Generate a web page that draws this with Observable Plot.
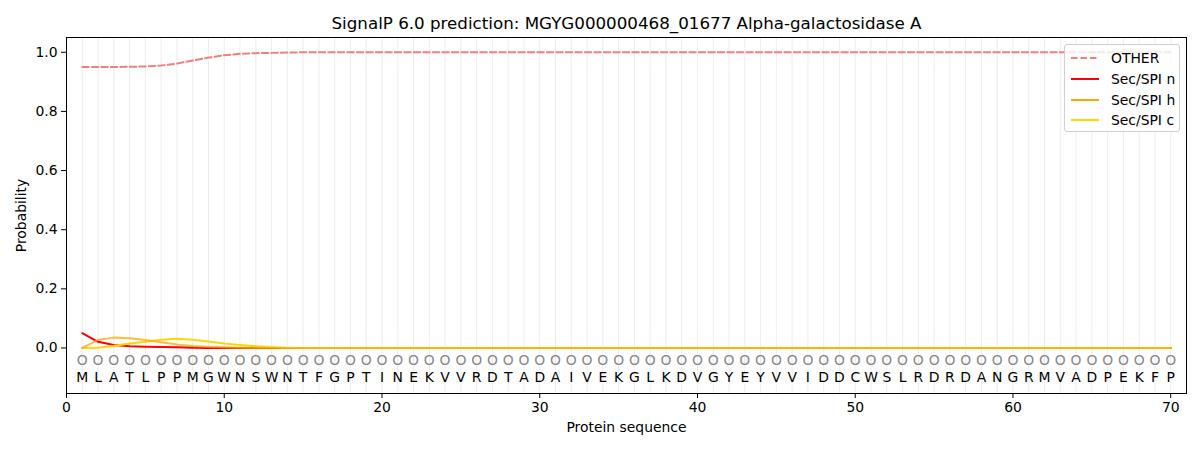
<!DOCTYPE html>
<html>
<head>
<meta charset="utf-8">
<script src="https://cdn.jsdelivr.net/npm/d3@7"></script>
<script src="https://cdn.jsdelivr.net/npm/@observablehq/plot@0.6"></script>
<style>
  body { margin: 0; background: #fff; font-family: "DejaVu Sans", sans-serif; }
  #wrap { position: relative; width: 1200px; height: 450px; }
  #legend { position: absolute; left: 1064px; top: 44px; width: 114px; height: 86px;
    border: 1px solid #d0d0d0; border-radius: 3px; background: rgba(255,255,255,0.8);
    font-family: "DejaVu Sans", sans-serif; font-size: 13.9px; color: #000; }
  #legend .row { position: absolute; left: 6px; height: 20px; display: flex; align-items: center; white-space: nowrap; }
  #legend svg { margin-right: 12px; }
</style>
</head>
<body>
<div id="wrap"></div>
<script>
const title = "SignalP 6.0 prediction: MGYG000000468_01677 Alpha-galactosidase A";
const sequence = "MLATLPPMGWNSWNTFGPTINEKVVRDTADAIVEKGLKDVGYEYVVIDDCWSLRDRDANGRMVADPEKFP".split("");
const xTicks = [0, 10, 20, 30, 40, 50, 60, 70];
const yTicks = [0.0, 0.2, 0.4, 0.6, 0.8, 1.0];

const otherProb = [0.950, 0.950, 0.950, 0.951, 0.952, 0.955, 0.962, 0.972, 0.982, 0.990, 0.995, 0.997, 0.998, 0.999];
const secN = [0.050, 0.021, 0.010, 0.006, 0.004, 0.003, 0.002, 0.001];
const secH = [0.000, 0.027, 0.035, 0.033, 0.027, 0.019, 0.012, 0.007, 0.004, 0.002, 0.001];
const secC = [0.000, 0.001, 0.007, 0.015, 0.021, 0.028, 0.031, 0.028, 0.022, 0.015, 0.010, 0.006, 0.003, 0.001];

const seriesNames = ["OTHER", "Sec/SPI n", "Sec/SPI h", "Sec/SPI c"];
const seriesColors = ["#f08080", "#ff0000", "#ffa500", "#ffd700"];

function fill(arr, tail) {
  return sequence.map((_, i) => i < arr.length ? arr[i] : tail);
}
const seriesValues = [fill(otherProb, 1.0), fill(secN, 0), fill(secH, 0), fill(secC, 0)];
const rows = [];
seriesNames.forEach((name, s) => {
  seriesValues[s].forEach((v, i) => rows.push({series: name, pos: i + 1, p: v}));
});
const residues = sequence.map((aa, i) => ({pos: i + 1, aa}));

const font = "DejaVu Sans, sans-serif";
const plot = Plot.plot({
  width: 1200,
  height: 450,
  marginLeft: 66,
  marginRight: 14,
  marginTop: 37,
  marginBottom: 57,
  style: {fontFamily: font, fontSize: "13.9px", background: "#fff", color: "#000"},
  x: {domain: [0, 71], ticks: xTicks, tickSize: 5, tickPadding: 4, label: null, tickFormat: d3.format("d")},
  y: {domain: [-0.154, 1.05], ticks: yTicks, tickSize: 5, tickPadding: 4, label: null, tickFormat: d3.format(".1f")},
  marks: [
    Plot.ruleX(residues, {x: "pos", stroke: "#e6e6e6", strokeWidth: 1, strokeOpacity: 0.7}),
    Plot.line(rows.filter(d => d.series === "OTHER"), {x: "pos", y: "p", stroke: seriesColors[0], strokeWidth: 2, strokeDasharray: "6.5,3"}),
    Plot.line(rows.filter(d => d.series === "Sec/SPI n"), {x: "pos", y: "p", stroke: seriesColors[1], strokeWidth: 2}),
    Plot.line(rows.filter(d => d.series === "Sec/SPI c"), {x: "pos", y: "p", stroke: seriesColors[3], strokeWidth: 2}),
    Plot.line(rows.filter(d => d.series === "Sec/SPI h"), {x: "pos", y: "p", stroke: seriesColors[2], strokeWidth: 2, strokeOpacity: 0.75}),
    Plot.text(residues, {x: "pos", y: () => -0.044, text: () => "O", fill: "#888888", fontSize: 13.9}),
    Plot.text(residues, {x: "pos", y: () => -0.1, text: "aa", fill: "#000", fontSize: 13.9}),
    Plot.axisX({ticks: xTicks, tickSize: 5, tickPadding: 4, tickFormat: d3.format("d"), label: null, fontSize: 13.9}),
    Plot.axisY({ticks: yTicks, tickSize: 5, tickPadding: 4, tickFormat: d3.format(".1f"), label: null, fontSize: 13.9}),
    Plot.frame({stroke: "#000", strokeWidth: 1}),
    Plot.text([title], {frameAnchor: "top", lineAnchor: "middle", dy: -14, text: d => d, fontSize: 16.7, fill: "#000"}),
    Plot.text(["Protein sequence"], {frameAnchor: "bottom", lineAnchor: "middle", dy: 34, text: d => d, fontSize: 13.9, fill: "#000"}),
    Plot.text(["Probability"], {frameAnchor: "left", textAnchor: "middle", lineAnchor: "middle", dx: -45, rotate: -90, text: d => d, fontSize: 13.9, fill: "#000"})
  ]
});
const wrap = document.getElementById("wrap");
wrap.appendChild(plot);

const legend = document.createElement("div");
legend.id = "legend";
seriesNames.forEach((name, i) => {
  const row = document.createElement("div");
  row.className = "row";
  row.style.top = (3 + i * 20.8) + "px";
  const dash = i === 0 ? 'stroke-dasharray="6.5,3"' : "";
  row.innerHTML = `<svg width="28" height="10"><line x1="0" y1="5" x2="28" y2="5" stroke="${seriesColors[i]}" stroke-width="2" ${dash}/></svg><span>${name}</span>`;
  legend.appendChild(row);
});
wrap.appendChild(legend);
</script>
</body>
</html>
